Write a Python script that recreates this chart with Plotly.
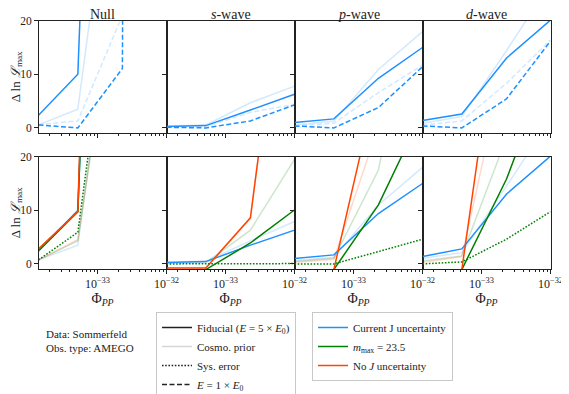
import plotly.graph_objects as go
from plotly.subplots import make_subplots

# DM annihilation flux points
phi = [1.4e-34, 5.2e-34, 2.3e-33, 1e-32]
channels = ["Null", "<i>s</i>-wave", "<i>p</i>-wave", "<i>d</i>-wave"]

# top row: current J uncertainty (panels: Null, s, p, d)
top_fid = [[2.37, 10.0, 230, 900], [0.25, 0.43, 3.35, 6.27], [1.0, 1.68, 9.25, 15.0], [1.37, 2.6, 13.0, 20.1]]
top_cosmo = [[0.56, 3.5, 66, 300], [0.37, 0.56, 4.7, 7.8], [0.56, 1.3, 10.9, 17.95], [0.87, 2.1, 14.4, 27]]
top_e1_cosmo = [[0.6, 1.3, 21, 150], [0.12, 0.25, 2.9, 4.4], [0.37, 0.87, 6.6, 11.7], [0.56, 1.3, 8.3, 16.4]]
top_e1 = [[0.55, 0.0, 11.1, 2000], [0.12, 0.0, 1.3, 4.3], [0.37, 0.0, 3.8, 11.4], [0.37, 0.0, 5.4, 16.2]]

# bottom row: fiducial energy, three J treatments
bot_blue = [[2.55, 9.95, 230, 900], [0.25, 0.43, 3.5, 6.3], [1.0, 1.68, 9.4, 15.0], [1.37, 2.8, 13.0, 20.1]]
bot_blue_cosmo = [[0.75, 3.5, 66, 300], [0.3, 0.5, 4.3, 7.9], [0.6, 1.25, 11.0, 18.0], [1.05, 2.1, 14.5, 27]]
bot_green = [[2.4, 9.75, 230, 900], [-2.0, -1.05, 3.9, 10.06], [-3.0, -1.05, 11.0, 28.2], [-3.0, -1.05, 15.8, 37.4]]
bot_green_cosmo = [[0.75, 4.3, 60, 300], [0.1, 0.2, 6.3, 19.5], [0.43, 1.05, 17.5, 59], [0.56, 1.5, 23.5, 100]]
bot_green_sys = [[0.75, 5.9, 68, 300], [0.0, 0.0, 0.03, 0.06], [0.0, 0.0, 2.3, 4.6], [0.0, 0.37, 4.6, 9.75]]
bot_red = [[2.8, 9.7, 300, 1000], [-0.75, -0.75, 8.6, 72], [-3.0, -1.05, 35, 100], [-3.0, -1.05, 57.5, 150]]
bot_red_cosmo = [[0.75, 4.5, 62, 300], [-0.75, -0.75, 8.6, 72], [0.25, 0.87, 25.7, 80], [0.25, 1.37, 39, 120]]

BLUE = "#1E90FF"
GREEN = "#008000"
RED = "#FF4500"
LBLUE = "rgba(30,144,255,0.2)"
LGREEN = "rgba(0,128,0,0.2)"
LRED = "rgba(255,69,0,0.2)"
INK = "#222222"
FONT = "Liberation Serif, DejaVu Serif, serif"
DASH = "5px,2.5px"
DOT = "1.6px,1.6px"

# page body has an 8px margin, so the figure is a bit smaller than the window
OFF = 8
FW, FH = 569 - OFF, 394 - OFF


def px(p):
    return (p - OFF) / FW


def py(p):
    return 1 - (p - OFF) / FH


fig = make_subplots(rows=2, cols=4)


def add_line(y, row, col, color, dash="solid", width=1.5):
    fig.add_trace(go.Scatter(x=phi, y=y, mode="lines", showlegend=False,
                             line=dict(color=color, dash=dash, width=width)),
                  row=row, col=col)


for i in range(4):
    c = i + 1
    add_line(top_cosmo[i], 1, c, LBLUE)
    add_line(top_e1_cosmo[i], 1, c, LBLUE, dash=DASH)
    add_line(top_fid[i], 1, c, BLUE)
    add_line(top_e1[i], 1, c, BLUE, dash=DASH)

    add_line(bot_blue_cosmo[i], 2, c, LBLUE)
    add_line(bot_green_cosmo[i], 2, c, LGREEN)
    add_line(bot_red_cosmo[i], 2, c, LRED)
    add_line(bot_blue[i], 2, c, BLUE)
    add_line(bot_green[i], 2, c, GREEN)
    add_line(bot_red[i], 2, c, RED)
    add_line(bot_green_sys[i], 2, c, GREEN, dash=DOT)

# legend entries
leg1 = [("Fiducial (<i>E</i> = 5 × <i>E</i><sub>0</sub>)", INK, "solid"),
        ("Cosmo. prior", "#d6d6d6", "solid"),
        ("Sys. error", INK, DOT),
        ("<i>E</i> = 1 × <i>E</i><sub>0</sub>", INK, DASH)]
leg2 = [("Current J uncertainty", BLUE),
        ("<i>m</i><sub>max</sub> = 23.5", GREEN),
        ("No <i>J</i> uncertainty", RED)]
for name, col, dash in leg1:
    fig.add_trace(go.Scatter(x=[None], y=[None], mode="lines", name=name, legend="legend",
                             line=dict(color=col, dash=dash, width=1.5)))
for name, col in leg2:
    fig.add_trace(go.Scatter(x=[None], y=[None], mode="lines", name=name, legend="legend2",
                             line=dict(color=col, width=1.5)))

xedges = [38.5, 166.5, 294.5, 422.5, 550.5]
rows_px = [(20.7, 133.0), (156.7, 269.0)]

minor_vals = [k * 1e-34 for k in range(2, 10)] + [k * 1e-33 for k in range(2, 10)]

for r in range(2):
    for c in range(4):
        n = r * 4 + c + 1
        xa = "xaxis" if n == 1 else f"xaxis{n}"
        ya = "yaxis" if n == 1 else f"yaxis{n}"
        top, bot = rows_px[r]
        fig.layout[xa].update(
            type="log", range=[-33.854, -31.9995], automargin=False,
            domain=[px(xedges[c]), px(xedges[c + 1])],
            tickmode="array", tickvals=[1e-33, 1e-32],
            ticktext=["10<sup>−33</sup>", "10<sup>−32</sup>"],
            showticklabels=(r == 1), ticks="outside", ticklen=3.5,
            minor=dict(tickmode="array", tickvals=minor_vals, ticks="outside", ticklen=2,
                       tickcolor=INK),
            showline=True, linecolor=INK, linewidth=1, mirror=True,
            showgrid=False, zeroline=False, tickcolor=INK,
            tickfont=dict(family=FONT, size=12, color=INK),
            title=dict(text="Φ<sub><i>PP</i></sub>" if r == 1 else "",
                       font=dict(family=FONT, size=14, color=INK), standoff=0),
        )
        fig.layout[ya].update(
            range=[-0.95, 20], domain=[py(bot), py(top)], automargin=False,
            tickvals=[0, 10, 20], showticklabels=(c == 0),
            ticks="outside", ticklen=3.5, tickcolor=INK,
            showline=True, linecolor=INK, linewidth=1, mirror=True,
            showgrid=False, zeroline=False,
            tickfont=dict(family=FONT, size=11.5, color=INK),
        )

for c in range(4):
    fig.add_annotation(text=channels[c], x=px((xedges[c] + xedges[c + 1]) / 2), y=py(15),
                       xref="paper", yref="paper", xanchor="center", yanchor="middle",
                       showarrow=False, font=dict(family=FONT, size=14, color=INK))

for top, bot in rows_px:
    fig.add_annotation(text="Δ ln <i>ℒ</i><sub>max</sub>", textangle=-90,
                       x=px(16.5), y=py((top + bot) / 2), xref="paper", yref="paper",
                       xanchor="center", yanchor="middle",
                       showarrow=False, font=dict(family=FONT, size=13, color=INK))

fig.add_annotation(text="Data: Sommerfeld<br>Obs. type: AMEGO", x=px(44), y=py(341),
                   xref="paper", yref="paper", xanchor="left", yanchor="middle", align="left",
                   showarrow=False, font=dict(family=FONT, size=11, color=INK))

legend_style = dict(bgcolor="white", bordercolor="#c8c8c8", borderwidth=1,
                    font=dict(family=FONT, size=11, color=INK),
                    itemwidth=30, tracegroupgap=0, xanchor="left", yanchor="top")

fig.update_layout(
    width=FW, height=FH,
    margin=dict(l=0, r=0, t=0, b=0, autoexpand=False),
    plot_bgcolor="white", paper_bgcolor="white",
    legend=dict(x=px(156), y=py(312), **legend_style),
    legend2=dict(x=px(312), y=py(312), **legend_style),
)

fig.write_html("out.html")
